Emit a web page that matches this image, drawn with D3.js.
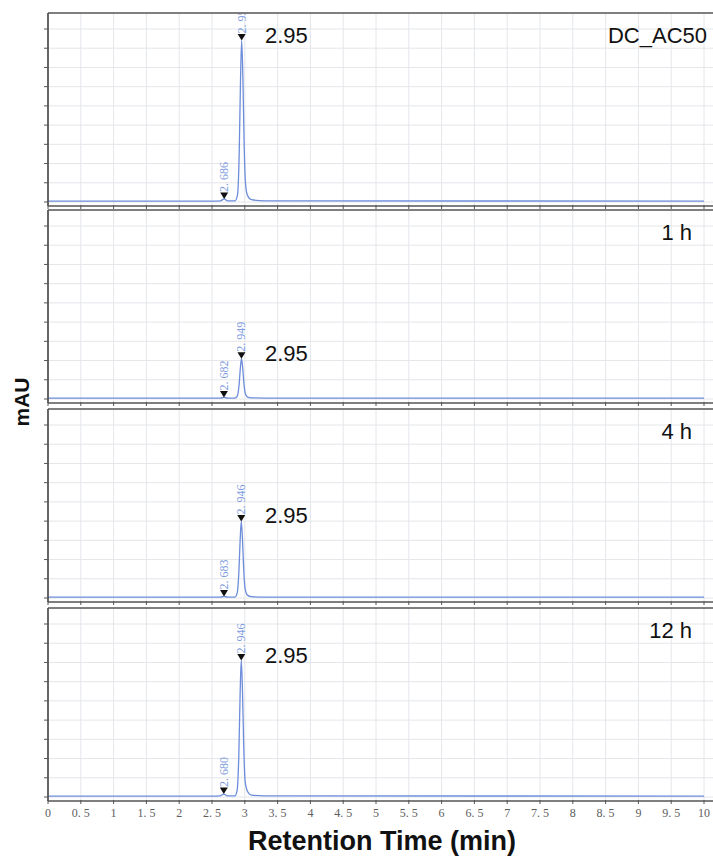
<!DOCTYPE html>
<html>
<head>
<meta charset="utf-8">
<script src="https://cdn.jsdelivr.net/npm/d3@7"></script>
<style>
  body { margin: 0; background: #fff; }
  svg { display: block; }
</style>
</head>
<body>
<div id="chart"></div>
<script>
const lineBlue = '#6d8ddb'
const labelBlue = '#7f9de0'
const axisGray = '#555'
const gridGray = '#e4e6ea'

const panelNames = ['DC_AC50', '1 h', '4 h', '12 h']
const mainPeakTimes = [2.952, 2.949, 2.946, 2.946]
const mainPeakLabels = ['2. 952', '2. 949', '2. 946', '2. 946']
const minorPeakTimes = [2.686, 2.682, 2.683, 2.680]
const minorPeakLabels = ['2. 686', '2. 682', '2. 683', '2. 680']
const mainPeakHeights = [8.4, 2.1, 3.98, 7.1]
const minorPeakHeights = [0.16, 0.08, 0.08, 0.15]

const traceDC = [[0, 0.05], [2.5, 0.05], [2.63, 0.06], [2.686, 0.16], [2.74, 0.06], [2.85, 0.06], [2.89, 0.4], [2.915, 2.6], [2.935, 6.4], [2.952, 8.4], [2.97, 6.6], [2.99, 3.0], [3.01, 1.0], [3.04, 0.35], [3.1, 0.12], [3.3, 0.06], [10, 0.05]]
const trace1h = [[0, 0.05], [2.5, 0.05], [2.63, 0.05], [2.682, 0.08], [2.74, 0.05], [2.85, 0.05], [2.885, 0.15], [2.912, 0.7], [2.932, 1.6], [2.949, 2.1], [2.967, 1.65], [2.987, 0.8], [3.007, 0.3], [3.04, 0.1], [3.1, 0.06], [3.3, 0.05], [10, 0.05]]
const trace4h = [[0, 0.05], [2.5, 0.05], [2.63, 0.05], [2.683, 0.08], [2.74, 0.05], [2.85, 0.05], [2.883, 0.25], [2.909, 1.3], [2.929, 3.0], [2.946, 3.98], [2.964, 3.1], [2.984, 1.45], [3.004, 0.5], [3.04, 0.15], [3.1, 0.07], [3.3, 0.05], [10, 0.05]]
const trace12h = [[0, 0.05], [2.5, 0.05], [2.62, 0.06], [2.680, 0.15], [2.735, 0.06], [2.85, 0.06], [2.883, 0.35], [2.909, 2.2], [2.929, 5.4], [2.946, 7.1], [2.964, 5.6], [2.984, 2.6], [3.004, 0.85], [3.04, 0.3], [3.1, 0.1], [3.3, 0.06], [10, 0.05]]
const traces = [traceDC, trace1h, trace4h, trace12h]

const xTicks = d3.range(0, 10.01, 0.5)
const yTicks = d3.range(0, 10)

const width = 713
const height = 857
const panelLeft = 48
const panelTops = [13, 210, 409, 608]
const panelHeight = 193

const svg = d3.select('#chart').append('svg').attr('width', width).attr('height', height)
const x = d3.scaleLinear().domain([0, 10]).range([panelLeft, 704])
const fmtTick = d => Number.isInteger(d) ? `${d}` : `${Math.floor(d)}. 5`

panelTops.forEach((top, i) => {
    const bottom = top + panelHeight
    const y = d3.scaleLinear().domain([0, 9]).range([bottom - 4, top + 16])
    const g = svg.append('g')

    g.append('clipPath').attr('id', `clip${i}`)
        .append('rect').attr('x', panelLeft).attr('y', top).attr('width', width - panelLeft).attr('height', panelHeight)

    const inner = g.append('g').attr('clip-path', `url(#clip${i})`)

    inner.selectAll('line.vgrid')
        .data(xTicks.slice(1))
        .enter().append('line')
        .attr('x1', d => x(d)).attr('x2', d => x(d))
        .attr('y1', top).attr('y2', bottom)
        .attr('stroke', gridGray).attr('stroke-width', 1)

    inner.selectAll('line.hgrid')
        .data(yTicks)
        .enter().append('line')
        .attr('x1', panelLeft).attr('x2', width)
        .attr('y1', d => y(d)).attr('y2', d => y(d))
        .attr('stroke', gridGray).attr('stroke-width', 1)

    const line = d3.line().x(d => x(d[0])).y(d => y(d[1])).curve(d3.curveMonotoneX)
    inner.append('path')
        .attr('d', line(traces[i]))
        .attr('fill', 'none')
        .attr('stroke', lineBlue)
        .attr('stroke-width', 1.3)

    const marks = [
        { t: mainPeakTimes[i], v: mainPeakHeights[i], label: mainPeakLabels[i] },
        { t: minorPeakTimes[i], v: minorPeakHeights[i], label: minorPeakLabels[i] }
    ]
    marks.forEach(m => {
        const px = x(m.t)
        const py = y(m.v)
        inner.append('path')
            .attr('d', `M${px - 4},${py - 6.5}L${px + 4},${py - 6.5}L${px},${py}Z`)
            .attr('fill', '#111')
        inner.append('text')
            .attr('transform', `translate(${px + 4} ${py - 7}) rotate(-90)`)
            .attr('font-family', 'Liberation Serif, serif')
            .attr('font-size', 12)
            .attr('fill', labelBlue)
            .text(m.label)
    })

    // axes frame
    g.append('line').attr('x1', panelLeft).attr('x2', width).attr('y1', top).attr('y2', top)
        .attr('stroke', axisGray).attr('stroke-width', 1.6)
    g.append('line').attr('x1', panelLeft).attr('x2', width).attr('y1', bottom).attr('y2', bottom)
        .attr('stroke', axisGray).attr('stroke-width', 1.6)
    g.append('line').attr('x1', panelLeft).attr('x2', panelLeft).attr('y1', top).attr('y2', bottom)
        .attr('stroke', axisGray).attr('stroke-width', 1.8)

    g.selectAll('line.ytick')
        .data(yTicks)
        .enter().append('line')
        .attr('x1', panelLeft - 4).attr('x2', panelLeft)
        .attr('y1', d => y(d)).attr('y2', d => y(d))
        .attr('stroke', axisGray).attr('stroke-width', 1)

    g.selectAll('line.xtick')
        .data(xTicks)
        .enter().append('line')
        .attr('x1', d => x(d)).attr('x2', d => x(d))
        .attr('y1', bottom - 1).attr('y2', bottom + 3)
        .attr('stroke', axisGray).attr('stroke-width', 1)

    g.append('text')
        .attr('x', 265).attr('y', y(mainPeakHeights[i]) + 2)
        .attr('font-family', 'Liberation Sans, Arial, sans-serif')
        .attr('font-size', 22)
        .attr('fill', '#111')
        .text('2.95')

    g.append('text')
        .attr('x', i === 0 ? 707 : 692).attr('y', top + 30)
        .attr('text-anchor', 'end')
        .attr('font-family', 'Liberation Sans, Arial, sans-serif')
        .attr('font-size', 22)
        .attr('fill', '#111')
        .text(panelNames[i])

    if (i === panelTops.length - 1) {
        g.selectAll('text.xlab')
            .data(xTicks)
            .enter().append('text')
            .attr('x', d => x(d)).attr('y', bottom + 16)
            .attr('text-anchor', 'middle')
            .attr('font-family', 'Liberation Serif, serif')
            .attr('font-size', 12)
            .attr('fill', '#5e5e5e')
            .text(fmtTick)
    }
})

svg.append('text')
    .attr('transform', `translate(29 402) rotate(-90)`)
    .attr('text-anchor', 'middle')
    .attr('font-family', 'Liberation Sans, Arial, sans-serif')
    .attr('font-weight', 'bold')
    .attr('font-size', 21)
    .attr('fill', '#111')
    .text('mAU')

svg.append('text')
    .attr('x', 382).attr('y', 850)
    .attr('text-anchor', 'middle')
    .attr('font-family', 'Liberation Sans, Arial, sans-serif')
    .attr('font-weight', 'bold')
    .attr('font-size', 27)
    .attr('fill', '#111')
    .text('Retention Time (min)')
</script>
</body>
</html>
